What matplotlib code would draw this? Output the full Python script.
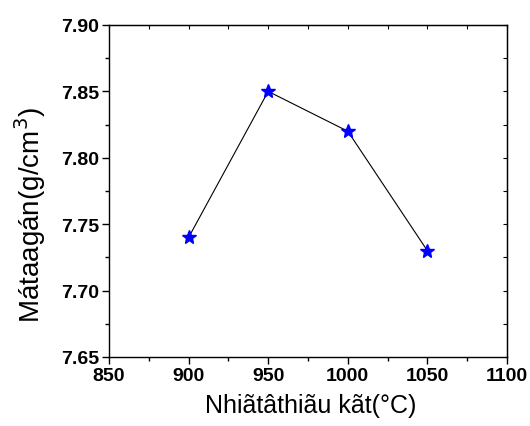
import matplotlib
matplotlib.use("Agg")
import matplotlib.pyplot as plt
from matplotlib.ticker import MultipleLocator, FormatStrFormatter

# sintering temperature (C) and density (g/cm3)
temps = [900, 950, 1000, 1050]
density = [7.74, 7.85, 7.82, 7.73]

plt.rcParams['font.family'] = ['Liberation Sans', 'DejaVu Sans']

fig = plt.figure(figsize=(5.3, 4.27), dpi=100)
ax = fig.add_axes([109/530, 1-358/427, 398/530, 332/427])

ax.plot(temps, density, color='black', lw=0.8, marker='*', ms=10,
        mfc='blue', mec='blue')

ax.set_xlim(850, 1100)
ax.set_ylim(7.65, 7.90)
ax.xaxis.set_major_locator(MultipleLocator(50))
ax.xaxis.set_minor_locator(MultipleLocator(25))
ax.yaxis.set_major_locator(MultipleLocator(0.05))
ax.yaxis.set_minor_locator(MultipleLocator(0.025))
ax.yaxis.set_major_formatter(FormatStrFormatter('%.2f'))

ax.tick_params(which='both', direction='out', top=False, right=False, width=1)
ax.tick_params(which='major', length=5, labelsize=14, pad=2)
ax.tick_params(which='minor', length=3)
for lab in ax.get_xticklabels() + ax.get_yticklabels():
    lab.set_fontweight('bold')

# inward ticks on top and right
sec_x = ax.secondary_xaxis('top')
sec_x.xaxis.set_major_locator(MultipleLocator(25))
sec_x.tick_params(direction='in', length=3, labeltop=False)
sec_y = ax.secondary_yaxis('right')
sec_y.yaxis.set_major_locator(MultipleLocator(0.025))
sec_y.tick_params(direction='in', length=3, labelright=False)

for sp in ax.spines.values():
    sp.set_linewidth(1)

fig.text(311/530, 1-406/427, 'Nhiãtâthiãu kãt(°C)', fontsize=18,
         ha='center', va='center')
fig.text(30/530, 1-215/427, 'Mátaagán(g/cm$^3$)', fontsize=20,
         ha='center', va='center', rotation=90)

fig.savefig('out.png', dpi=100)
